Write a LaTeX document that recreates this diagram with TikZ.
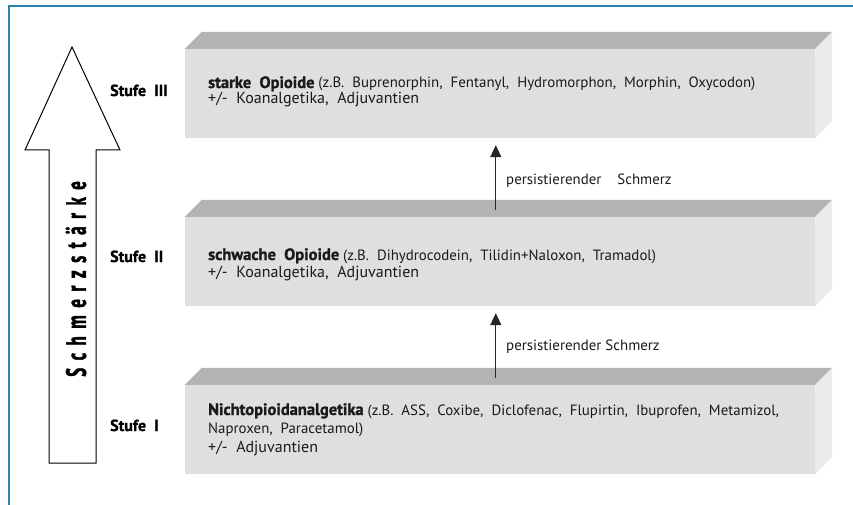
\documentclass[tikz,border=0pt]{standalone}
\usepackage{fontspec}
\setmainfont{PT Sans}
\newfontfamily\cond{PT Sans}
\newfontfamily\heavy{PT Sans Bold}[FakeBold=1.2]
\newfontfamily\spaced{PT Sans Bold}[FakeStretch=0.6,LetterSpace=27,FakeBold=1.5]
\usetikzlibrary{arrows.meta,calc}
\definecolor{frameblue}{HTML}{2A86B0}
\definecolor{frontc}{HTML}{DFDFDF}
\definecolor{topc}{HTML}{B4B4B4}
\definecolor{sidec}{HTML}{EBEBEB}
\definecolor{txt}{HTML}{1A1A1A}
\tikzset{
  front/.style={fill=frontc, draw=none, minimum width=630pt, minimum height=89pt, inner sep=0pt},
  topface/.style={fill=topc},
  sideface/.style={fill=sidec},
  linetxt/.style={anchor=base west, inner sep=0pt, text=txt, font=\cond\fontsize{14.9}{16}\selectfont},
  bigtxt/.style={anchor=base west, inner sep=0pt, text=txt, font=\cond\fontsize{16}{18}\selectfont},
  stufe/.style={anchor=base west, inner sep=0pt, text=black, font=\heavy\fontsize{16}{18}\selectfont},
  upar/.style={-{Triangle[length=12pt,width=11pt]}, line width=1.3pt, draw=black!85},
  bigar/.style={draw=black, line width=1pt, fill=white, line join=miter},
}
\newcommand\bld[1]{{\heavy\fontsize{16.5}{18}\selectfont #1}}
\begin{document}
\begin{tikzpicture}[x=1pt,y=-1pt]
\useasboundingbox (0,0) rectangle (853,505);
% frame
\draw[frameblue, line width=1.5pt] (9,505) -- (9,6) -- (853,6);

% boxes
\foreach \nm/\cy in {b3/93.5, b2/261.5, b1/429.5}{
  \node[front] (\nm) at (500,\cy) {};
  \fill[topface] (\nm.north west) -- ++(17,-17) -- ($(\nm.north east)+(17,-17)$) -- (\nm.north east) -- cycle;
  \fill[sideface] (\nm.north east) -- ++(17,-17) -- ++(0,89) -- (\nm.south east) -- cycle;
}

% box III text
\node[linetxt] (t3a) at (208,88) {\bld{starke\ \ Opioide} (z.B.\ \ Buprenorphin,\ \ Fentanyl,\ \ Hydromorphon,\ \ Morphin,\ \ Oxycodon)};
\node[bigtxt] (t3b) at (208,104) {+/-\ \ Koanalgetika,\ \ Adjuvantien};
% box II text
\node[linetxt] (t2a) at (208,260) {\bld{schwache\ \ Opioide} (z.B.\ \ Dihydrocodein,\ \ Tilidin+Naloxon,\ \ Tramadol)};
\node[bigtxt] (t2b) at (208,277) {+/-\ \ Koanalgetika,\ \ Adjuvantien};
% box I text
\node[linetxt] (t1a) at (208,415) {\bld{Nichtopioidanalgetika} (z.B.\ \ ASS,\ \ Coxibe,\ \ Diclofenac,\ \ Flupirtin,\ \ Ibuprofen,\ \ Metamizol,};
\node[linetxt] (t1b) at (208,433) {Naproxen,\ \ Paracetamol)};
\node[bigtxt] (t1c) at (208,452) {+/-\ \ Adjuvantien};

% stufe labels
\node[stufe] (s3) at (110,96) {Stufe\ \ III};
\node[stufe] (s2) at (110,262) {Stufe\ \ II};
\node[stufe] (s1) at (110,431) {Stufe\ \ I};

% connectors
\coordinate (a1s) at ($(b2.north west)+(311,-7)$);
\coordinate (a1e) at ($(b3.south west)+(311,7)$);
\coordinate (a2s) at ($(b1.north west)+(311,-7)$);
\coordinate (a2e) at ($(b2.south west)+(311,7)$);
\draw[upar] (a1s) -- (a1e);
\draw[upar] (a2s) -- (a2e);
\node[linetxt] (p1) at (506,185) {persistierender\ \ \ \ Schmerz};
\node[linetxt] (p2) at (506,350) {persistierender Schmerz};

% big arrow
\coordinate (tip) at (72,47);
\draw[bigar] (tip) -- (120,150) -- (96,150) -- (96,463) -- (49,463) -- (49,150) -- (25,150) -- cycle;
\node[rotate=90, inner sep=0pt, font=\spaced\fontsize{28}{30}\selectfont] (sk) at (76,279) {Schmerzstärke};
\end{tikzpicture}
\end{document}
